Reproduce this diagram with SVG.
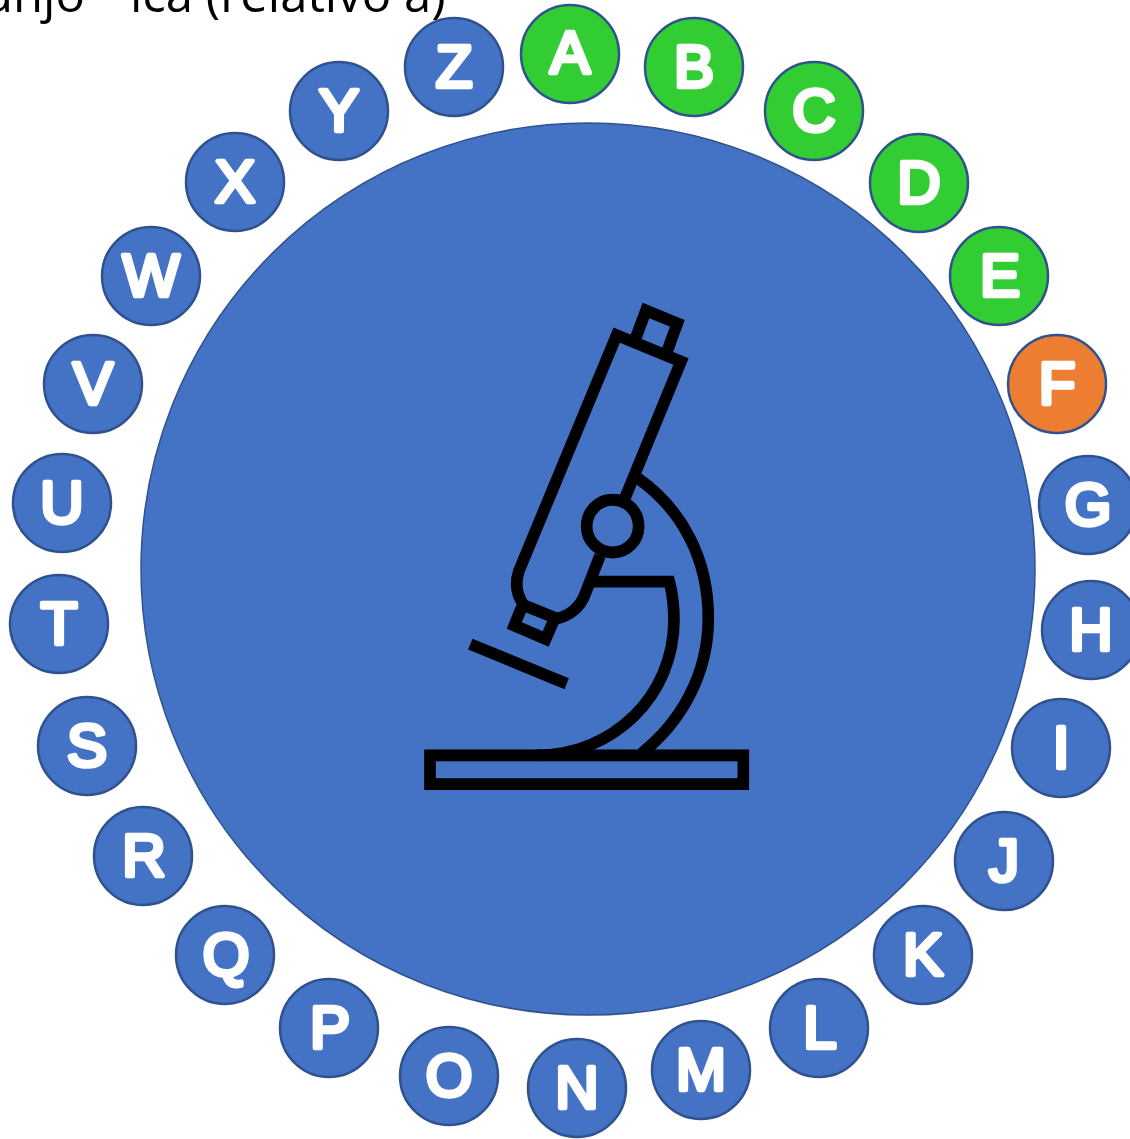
<svg xmlns="http://www.w3.org/2000/svg" width="1130" height="1139" viewBox="0 0 1130 1139">
<style>
.n{stroke:#2F528F;stroke-width:2.5}
.b{fill:#4472C4}.g{fill:#32CD32}.o{fill:#ED7D31}
.l{font-family:"Liberation Sans",Arial,sans-serif;font-size:60px;fill:#fff;stroke:#fff;stroke-width:4.5;stroke-linejoin:round;text-anchor:middle}
.t{font-family:"Open Sans","Noto Sans",sans-serif;font-size:49px;fill:#000}
.m{fill:none;stroke:#000;stroke-width:35}
</style>
<rect width="1130" height="1139" fill="#fff"/>
<text class="t" x="-17" y="12">unjo</text>
<text class="t" x="130" y="12">ica (relativo a)</text>
<g id="hub">
<ellipse cx="588" cy="569" rx="447" ry="446" fill="#4472C4" stroke="#2F528F" stroke-width="1.5"/>
<g transform="translate(400 280) scale(.3333 .3381)">
<rect class="m" x="90" y="1406" width="940" height="85"/>
<path class="m" d="M211,1077L500,1194"/>
<path class="m" d="M675,645L843,241L650,163L357,860C345,895 348,930 372,962L470,1001C505,995 540,970 555,930L600,815"/>
<path class="m" d="M706,175L738,90L832,128L800,215"/>
<path class="m" d="M365,968L343,1022L437,1062L462,1005"/>
<circle class="m" cx="638" cy="728" r="78"/>
<path class="m" d="M712,585C850,680 925,830 925,1000C925,1170 840,1310 725,1400"/>
<path class="m" d="M572,892H808C818,930 822,965 822,1005C822,1230 640,1406 410,1406"/>
</g>
</g>
<g id="connectors"></g>
<g id="node-A"><circle class="n g" cx="570" cy="54" r="49"/><text class="l" x="570" y="73">A</text></g>
<g id="node-B"><circle class="n g" cx="694" cy="67" r="49"/><text class="l" x="694" y="87">B</text></g>
<g id="node-C"><circle class="n g" cx="814" cy="111" r="49"/><text class="l" x="814" y="131">C</text></g>
<g id="node-D"><circle class="n g" cx="919" cy="183" r="49"/><text class="l" x="919" y="203">D</text></g>
<g id="node-E"><circle class="n g" cx="999" cy="276" r="49"/><text class="l" x="1000" y="296">E</text></g>
<g id="node-F"><circle class="n o" cx="1057" cy="384" r="49"/><text class="l" x="1057" y="404">F</text></g>
<g id="node-G"><circle class="n b" cx="1088" cy="505" r="49"/><text class="l" x="1088" y="525">G</text></g>
<g id="node-H"><circle class="n b" cx="1091" cy="630" r="49"/><text class="l" x="1091" y="650">H</text></g>
<g id="node-I"><circle class="n b" cx="1061" cy="748" r="49"/><text class="l" x="1061" y="768">I</text></g>
<g id="node-J"><circle class="n b" cx="1004" cy="861" r="49"/><text class="l" x="1004" y="881">J</text></g>
<g id="node-K"><circle class="n b" cx="923" cy="955" r="49"/><text class="l" x="923" y="975">K</text></g>
<g id="node-L"><circle class="n b" cx="819" cy="1028" r="49"/><text class="l" x="820" y="1048">L</text></g>
<g id="node-M"><circle class="n b" cx="701" cy="1070" r="49"/><text class="l" x="701" y="1090">M</text></g>
<g id="node-N"><circle class="n b" cx="577" cy="1088" r="49"/><text class="l" x="577" y="1108">N</text></g>
<g id="node-O"><circle class="n b" cx="449" cy="1076" r="49"/><text class="l" x="449" y="1096">O</text></g>
<g id="node-P"><circle class="n b" cx="329" cy="1028" r="49"/><text class="l" x="330" y="1048">P</text></g>
<g id="node-Q"><circle class="n b" cx="225" cy="955" r="49"/><text class="l" x="226" y="975">Q</text></g>
<g id="node-R"><circle class="n b" cx="143" cy="856" r="49"/><text class="l" x="144" y="876">R</text></g>
<g id="node-S"><circle class="n b" cx="87" cy="746" r="49"/><text class="l" x="87" y="766">S</text></g>
<g id="node-T"><circle class="n b" cx="59" cy="624" r="49"/><text class="l" x="59" y="644">T</text></g>
<g id="node-U"><circle class="n b" cx="62" cy="503" r="49"/><text class="l" x="62" y="523">U</text></g>
<g id="node-V"><circle class="n b" cx="93" cy="384" r="49"/><text class="l" x="93" y="404">V</text></g>
<g id="node-W"><circle class="n b" cx="151" cy="276" r="49"/><text class="l" x="151" y="296">W</text></g>
<g id="node-X"><circle class="n b" cx="235" cy="182" r="49"/><text class="l" x="235" y="202">X</text></g>
<g id="node-Y"><circle class="n b" cx="339" cy="111" r="49"/><text class="l" x="339" y="131">Y</text></g>
<g id="node-Z"><circle class="n b" cx="454" cy="67" r="49"/><text class="l" x="454" y="87">Z</text></g>
</svg>
